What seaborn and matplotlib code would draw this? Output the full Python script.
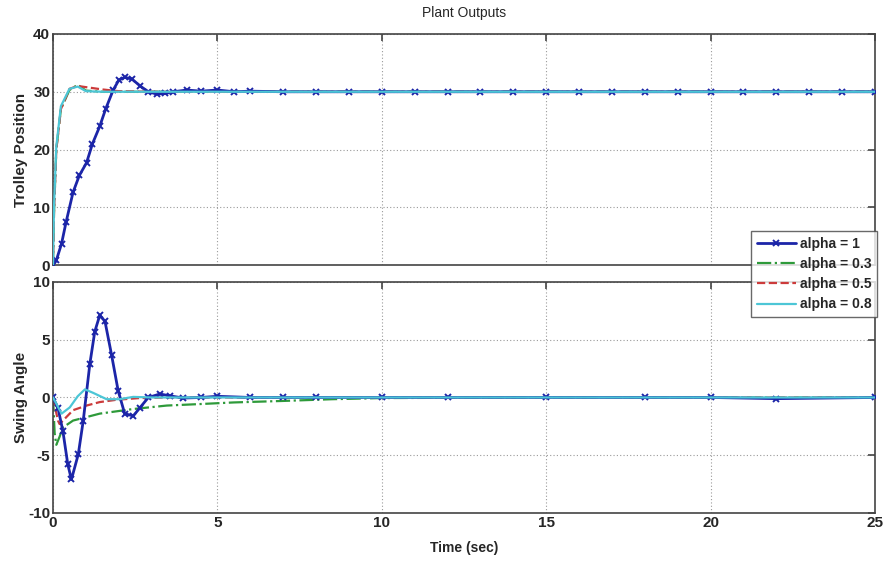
"""Plant outputs of the trolley/pendulum system for four alpha values."""
import matplotlib
matplotlib.use("Agg")
import matplotlib.pyplot as plt
import pandas as pd
import seaborn as sns

# ---- trolley position ----------------------------------------------------
t_pos_a1 = [0.0, 0.1, 0.26, 0.4, 0.61, 0.8, 1.02, 1.2, 1.42, 1.6, 1.83, 2.0, 2.18, 2.4, 2.65, 2.9,
            3.15, 3.4, 3.66, 4.07, 4.5, 5.0, 5.5, 6.0, 7.0, 8.0, 9.0, 10.0, 11.0, 12.0, 13.0, 14.0,
            15.0, 16.0, 17.0, 18.0, 19.0, 20.0, 21.0, 22.0, 23.0, 24.0, 25.0]
pos_a1 = [0.0, 0.8, 3.7, 7.5, 12.6, 15.5, 17.7, 21.0, 24.0, 27.0, 30.3, 32.0, 32.5, 32.2, 31.0, 30.0,
          29.6, 29.7, 30.0, 30.3, 30.1, 30.3, 30.0, 30.1, 30.0, 30.0, 30.0, 30.0, 30.0, 30.0, 30.0, 30.0,
          30.0, 30.0, 30.0, 30.0, 30.0, 30.0, 30.0, 30.0, 30.0, 30.0, 30.0]

t_pos_fast = [0.0, 0.03, 0.1, 0.24, 0.5, 0.75, 1.0, 1.5, 2.0, 3.0, 5.0, 10.0, 15.0, 20.0, 25.0]
pos_a03 = [0.0, 9.0, 20.0, 27.0, 30.3, 31.2, 30.2, 30.0, 30.0, 30.0, 30.0, 30.0, 30.0, 30.0, 30.0]
pos_a05 = [0.0, 9.0, 20.0, 27.0, 30.5, 31.0, 30.8, 30.4, 30.1, 30.0, 30.0, 30.0, 30.0, 30.0, 30.0]
pos_a08 = [0.0, 10.0, 20.5, 27.5, 30.5, 30.9, 30.1, 30.0, 30.0, 30.0, 30.0, 30.0, 30.0, 30.0, 30.0]

# ---- swing angle ---------------------------------------------------------
t_ang_a1 = [0.0, 0.15, 0.3, 0.45, 0.56, 0.77, 0.92, 1.12, 1.27, 1.42, 1.58, 1.78, 1.98, 2.18,
            2.44, 2.64, 2.9, 3.25, 3.56, 3.96, 4.5, 5.0, 6.0, 7.0, 8.0, 10.0, 12.0, 15.0, 18.0,
            20.0, 22.0, 25.0]
ang_a1 = [0.0, -0.9, -2.9, -5.8, -7.1, -4.9, -2.0, 2.9, 5.7, 7.1, 6.6, 3.7, 0.6, -1.4,
          -1.6, -0.9, 0.0, 0.3, 0.14, -0.05, 0.0, 0.1, 0.0, 0.0, 0.0, 0.0, 0.0, 0.0, 0.0,
          0.0, -0.1, 0.0]

t_ang_a03 = [0.0, 0.05, 0.1, 0.2, 0.3, 0.61, 1.42, 2.44, 3.46, 4.47, 5.5, 7.0, 8.5, 10.0, 15.0, 20.0, 25.0]
ang_a03 = [0.0, -3.1, -4.1, -3.4, -2.6, -2.0, -1.4, -1.0, -0.7, -0.57, -0.43, -0.3, -0.15, -0.05, 0.0, 0.0, 0.0]

t_ang_a05 = [0.0, 0.15, 0.2, 0.61, 1.02, 1.42, 1.93, 2.64, 3.5, 5.0, 10.0, 15.0, 20.0, 25.0]
ang_a05 = [0.0, -2.0, -2.3, -1.1, -0.7, -0.4, -0.2, -0.05, 0.0, 0.0, 0.0, 0.0, 0.0, 0.0]

t_ang_a08 = [0.0, 0.26, 0.51, 0.75, 0.97, 1.22, 1.63, 2.03, 2.44, 3.0, 5.0, 10.0, 15.0, 20.0, 25.0]
ang_a08 = [0.0, -1.4, -0.86, 0.1, 0.7, 0.4, -0.15, -0.15, 0.05, 0.0, 0.0, 0.0, 0.0, 0.0, 0.0]

labels = ["alpha = 1", "alpha = 0.3", "alpha = 0.5", "alpha = 0.8"]
colors = ["#1c25a8", "#2e9a3a", "#cc3b3b", "#4cc6d6"]
styles = ["-", "-.", "--", "-"]

sns.set_style("white")
plt.rcParams["font.family"] = ["Liberation Sans", "DejaVu Sans"]
plt.rcParams["axes.unicode_minus"] = False

fig = plt.figure(figsize=(8.85, 5.61), dpi=100)
ax_top = fig.add_axes([0.0599, 0.5276, 0.9288, 0.4118])
ax_bot = fig.add_axes([0.0599, 0.0856, 0.9288, 0.4118])


def draw(ax, series):
    for (t, y), lab, col, ls in zip(series, labels, colors, styles):
        df = pd.DataFrame({"t": t, "y": y})
        if lab == "alpha = 1":
            sns.lineplot(data=df, x="t", y="y", ax=ax, color=col, linestyle=ls, lw=2.0,
                         marker="x", markersize=4, markeredgewidth=1.4, markeredgecolor=col,
                         sort=False, estimator=None, label=lab, zorder=3)
        else:
            sns.lineplot(data=df, x="t", y="y", ax=ax, color=col, linestyle=ls, lw=1.6,
                         sort=False, estimator=None, label=lab,
                         zorder=4 if lab == "alpha = 0.8" else 2)
    ax.get_legend().remove()


draw(ax_top, [(t_pos_a1, pos_a1), (t_pos_fast, pos_a03), (t_pos_fast, pos_a05), (t_pos_fast, pos_a08)])
draw(ax_bot, [(t_ang_a1, ang_a1), (t_ang_a03, ang_a03), (t_ang_a05, ang_a05), (t_ang_a08, ang_a08)])

ax_top.set_ylim(0, 40)
ax_top.set_yticks([0, 10, 20, 30, 40])
ax_bot.set_ylim(-10, 10)
ax_bot.set_yticks([-10, -5, 0, 5, 10])
for ax in (ax_top, ax_bot):
    ax.set_xlim(0, 25)
    ax.set_xticks([0, 5, 10, 15, 20, 25])
    ax.grid(True, linestyle=(0, (1, 2)), color="#9a9a9a", linewidth=0.8)
    ax.tick_params(direction="in", length=5, width=1.2, color="#444444", top=True, right=True,
                   labelsize=11, pad=2)
    for lbl in ax.get_xticklabels() + ax.get_yticklabels():
        lbl.set_fontweight("bold")
    for sp in ax.spines.values():
        sp.set_color("#444444")
        sp.set_linewidth(1.2)
    ax.set_xlabel("")
ax_top.set_xticklabels([])
ax_top.set_ylabel("Trolley Position", fontsize=11, fontweight="bold")
ax_bot.set_ylabel("Swing Angle", fontsize=11, fontweight="bold")
for ax in (ax_top, ax_bot):
    ax.yaxis.set_label_coords(-0.031, 0.5)
ax_bot.set_xlabel("Time (sec)", fontsize=10, fontweight="bold", labelpad=8)
ax_top.set_title("Plant Outputs", fontsize=10, pad=12)

handles, _ = ax_top.get_legend_handles_labels()
leg = fig.legend(handles=handles, labels=labels, loc="upper right", bbox_to_anchor=(0.991, 0.588),
                 prop={"weight": "bold", "size": 10}, frameon=True, fancybox=False,
                 edgecolor="#444444", borderpad=0.4, labelspacing=0.45, handlelength=2.8,
                 handletextpad=0.3, borderaxespad=0.0)
leg.get_frame().set_linewidth(1.0)

fig.savefig("out.png", dpi=100)
